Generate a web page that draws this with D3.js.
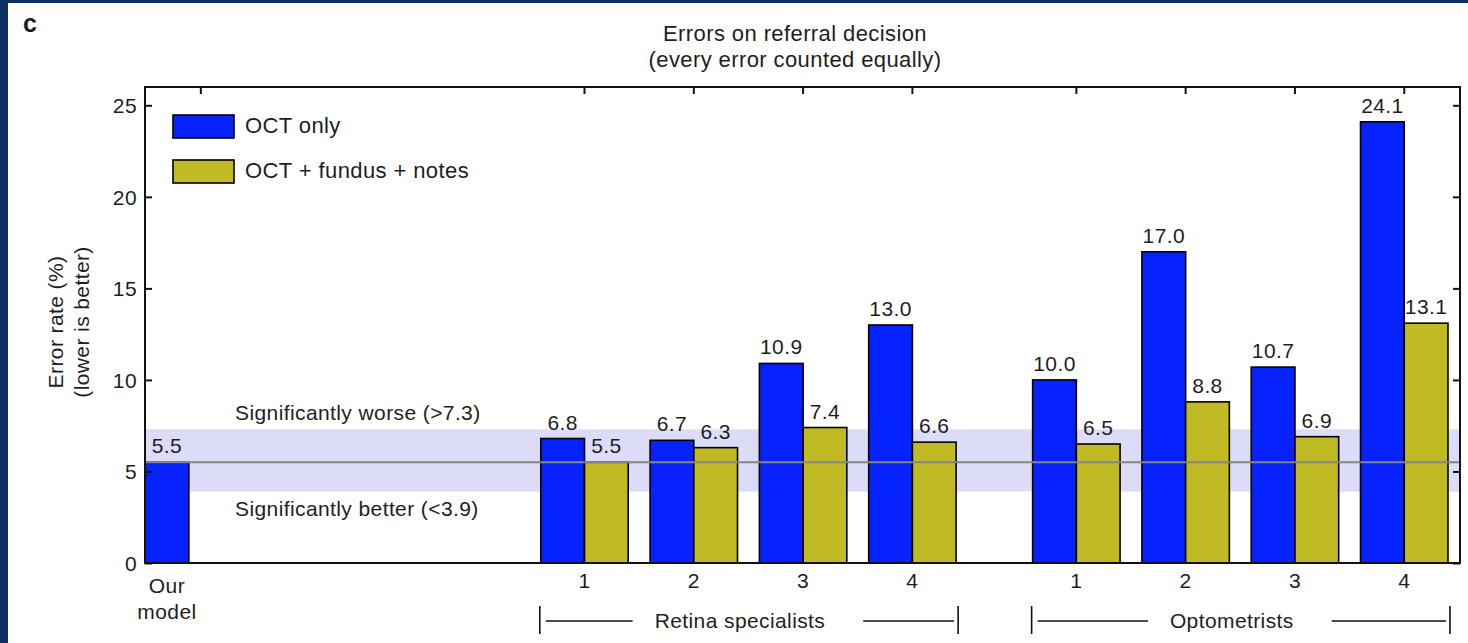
<!DOCTYPE html>
<html>
<head>
<meta charset="utf-8">
<script src="https://cdn.jsdelivr.net/npm/d3@7"></script>
<style>
  html, body { margin: 0; padding: 0; background: #0b2f5e; }
  #chart { position: absolute; left: 8px; top: 3px; width: 1460px; height: 640px; background: #fff; }
  text { font-family: "Liberation Sans", Arial, Helvetica, sans-serif; fill: #1e1e1e; letter-spacing: 0.4px; }
</style>
</head>
<body>
<div id="chart"></div>
<script>
// Data
const seriesNames = ["OCT only", "OCT + fundus + notes"];
const readerLabels = ["1", "2", "3", "4"];
const groupNames = ["Retina specialists", "Optometrists"];
const modelError = 5.5;
const retinaOctOnly = [6.8, 6.7, 10.9, 13.0];
const retinaOctFundus = [5.5, 6.3, 7.4, 6.6];
const optoOctOnly = [10.0, 17.0, 10.7, 24.1];
const optoOctFundus = [6.5, 8.8, 6.9, 13.1];
const yTicks = [0, 5, 10, 15, 20, 25];
const worseThreshold = 7.3;
const betterThreshold = 3.9;

const colors = ["#0622ff", "#c0bb24"];
const fs = 21;

// page offset of the white panel
const ox = 8, oy = 3;
const svg = d3.select("#chart").append("svg")
  .attr("width", 1460).attr("height", 640)
  .append("g").attr("transform", `translate(${-ox},${-oy})`);

const plot = { left: 145, right: 1460, top: 87, bottom: 563 };

// slot positions: readers 1-4 of each group, gap between groups
const retinaSlots = readerLabels.map((d, i) => i);
const optoSlots = readerLabels.map((d, i) => i + 4.5);
const modelSlot = -3.51;
const modelBarSlot = -3.82;

const x = d3.scaleLinear().domain([0, 1]).range([584.5, 693.8]);
const y = d3.scaleLinear().domain([0, 26]).range([plot.bottom, plot.top]);
const bw = x(0.4) - x(0);

// significance band
svg.append("rect")
  .attr("x", plot.left).attr("width", plot.right - plot.left)
  .attr("y", y(worseThreshold)).attr("height", y(betterThreshold) - y(worseThreshold))
  .attr("fill", "#dcdcf9");

// bars
const bars = [];
bars.push({ cx: x(modelBarSlot) - bw / 2, v: modelError, s: 0 });
retinaSlots.forEach((s, i) => {
  bars.push({ cx: x(s) - bw, v: retinaOctOnly[i], s: 0 });
  bars.push({ cx: x(s), v: retinaOctFundus[i], s: 1 });
});
optoSlots.forEach((s, i) => {
  bars.push({ cx: x(s) - bw, v: optoOctOnly[i], s: 0 });
  bars.push({ cx: x(s), v: optoOctFundus[i], s: 1 });
});

svg.selectAll("rect.bar").data(bars).enter().append("rect")
  .attr("class", "bar")
  .attr("x", d => d.cx).attr("width", bw)
  .attr("y", d => y(d.v)).attr("height", d => y(0) - y(d.v))
  .attr("fill", d => colors[d.s])
  .attr("stroke", "#000").attr("stroke-width", 1.6);

svg.selectAll("text.val").data(bars).enter().append("text")
  .attr("class", "val")
  .attr("x", d => d.cx + bw / 2).attr("y", d => y(d.v) - 9)
  .attr("text-anchor", "middle").attr("font-size", fs)
  .text(d => d3.format(".1f")(d.v));

// model reference line
svg.append("line")
  .attr("x1", plot.left).attr("x2", plot.right)
  .attr("y1", y(modelError)).attr("y2", y(modelError))
  .attr("stroke", "#858585").attr("stroke-width", 2);

// band annotations
svg.append("text").attr("x", 235).attr("y", y(worseThreshold) - 9)
  .attr("font-size", fs).text(`Significantly worse (>${worseThreshold})`);
svg.append("text").attr("x", 235).attr("y", y(betterThreshold) + 24)
  .attr("font-size", fs).text(`Significantly better (<${betterThreshold})`);

// frame
svg.append("rect")
  .attr("x", plot.left).attr("y", plot.top)
  .attr("width", plot.right - plot.left).attr("height", plot.bottom - plot.top)
  .attr("fill", "none").attr("stroke", "#111").attr("stroke-width", 2);

// y axes (left and mirrored right, ticks inward)
const yAxisL = d3.axisLeft(y).tickValues(yTicks).tickSize(-7).tickPadding(8).tickFormat(d3.format("d"));
const gL = svg.append("g").attr("transform", `translate(${plot.left},0)`).call(yAxisL);
gL.select(".domain").remove();
gL.selectAll("line").attr("stroke", "#111").attr("stroke-width", 2);
gL.selectAll("text").attr("font-size", fs).style("font-family", "'Liberation Sans', Arial, sans-serif")
  .attr("fill", "#1e1e1e").attr("dy", "0.35em");

const yAxisR = d3.axisRight(y).tickValues(yTicks).tickSize(-7).tickFormat("");
const gR = svg.append("g").attr("transform", `translate(${plot.right},0)`).call(yAxisR);
gR.select(".domain").remove();
gR.selectAll("line").attr("stroke", "#111").attr("stroke-width", 2);

// top ticks at category centres
const topSlots = [modelSlot].concat(retinaSlots, optoSlots);
svg.selectAll("line.ttick").data(topSlots).enter().append("line")
  .attr("x1", d => x(d)).attr("x2", d => x(d))
  .attr("y1", plot.top).attr("y2", plot.top + 7)
  .attr("stroke", "#111").attr("stroke-width", 2);

// x labels
const xl = svg.append("g");
retinaSlots.concat(optoSlots).forEach((s, i) => {
  xl.append("text").attr("x", x(s)).attr("y", 588).attr("text-anchor", "middle")
    .attr("font-size", fs).text(readerLabels[i % 4]);
});
xl.append("text").attr("x", x(modelBarSlot)).attr("y", 593).attr("text-anchor", "middle")
  .attr("font-size", fs).text("Our");
xl.append("text").attr("x", x(modelBarSlot)).attr("y", 619).attr("text-anchor", "middle")
  .attr("font-size", fs).text("model");

// group brackets
[[retinaSlots, groupNames[0]], [optoSlots, groupNames[1]]].forEach(([slots, name]) => {
  const x0 = x(slots[0]) - bw - 1, x1 = x(slots[slots.length - 1]) + bw + 2;
  const mid = (x0 + x1) / 2 - 9;
  const g = svg.append("g");
  const t = g.append("text").attr("x", mid).attr("y", 628)
    .attr("text-anchor", "middle").attr("font-size", fs).text(name);
  const w = t.node().getComputedTextLength();
  [x0, x1].forEach(a => {
    g.append("line").attr("x1", a).attr("x2", a).attr("y1", 606).attr("y2", 634)
      .attr("stroke", "#111").attr("stroke-width", 1.6);
  });
  g.append("line").attr("x1", x0 + 6).attr("x2", mid - w / 2 - 22)
    .attr("y1", 621).attr("y2", 621).attr("stroke", "#111").attr("stroke-width", 1.6);
  g.append("line").attr("x1", mid + w / 2 + 38).attr("x2", x1 - 4)
    .attr("y1", 621).attr("y2", 621).attr("stroke", "#111").attr("stroke-width", 1.6);
});

// y axis title
const yt = svg.append("text").attr("transform", `translate(63,${(plot.top + plot.bottom) / 2 - 3}) rotate(-90)`)
  .attr("text-anchor", "middle").attr("font-size", fs);
yt.append("tspan").attr("x", 0).attr("dy", 0).text("Error rate (%)");
yt.append("tspan").attr("x", 0).attr("dy", 26).text("(lower is better)");

// legend
const legend = svg.append("g");
seriesNames.forEach((n, i) => {
  legend.append("rect").attr("x", 173).attr("y", 115 + i * 45).attr("width", 61).attr("height", 23)
    .attr("fill", colors[i]).attr("stroke", "#000").attr("stroke-width", 1.6);
  legend.append("text").attr("x", 245).attr("y", 133 + i * 45).attr("font-size", 22).text(n);
});

// title and panel letter
svg.append("text").attr("x", 795).attr("y", 41).attr("text-anchor", "middle")
  .attr("font-size", 22).text("Errors on referral decision");
svg.append("text").attr("x", 795).attr("y", 67).attr("text-anchor", "middle")
  .attr("font-size", 22).text("(every error counted equally)");
svg.append("text").attr("x", 23).attr("y", 32).attr("font-size", 25).attr("font-weight", "bold").text("c");
</script>
</body>
</html>
